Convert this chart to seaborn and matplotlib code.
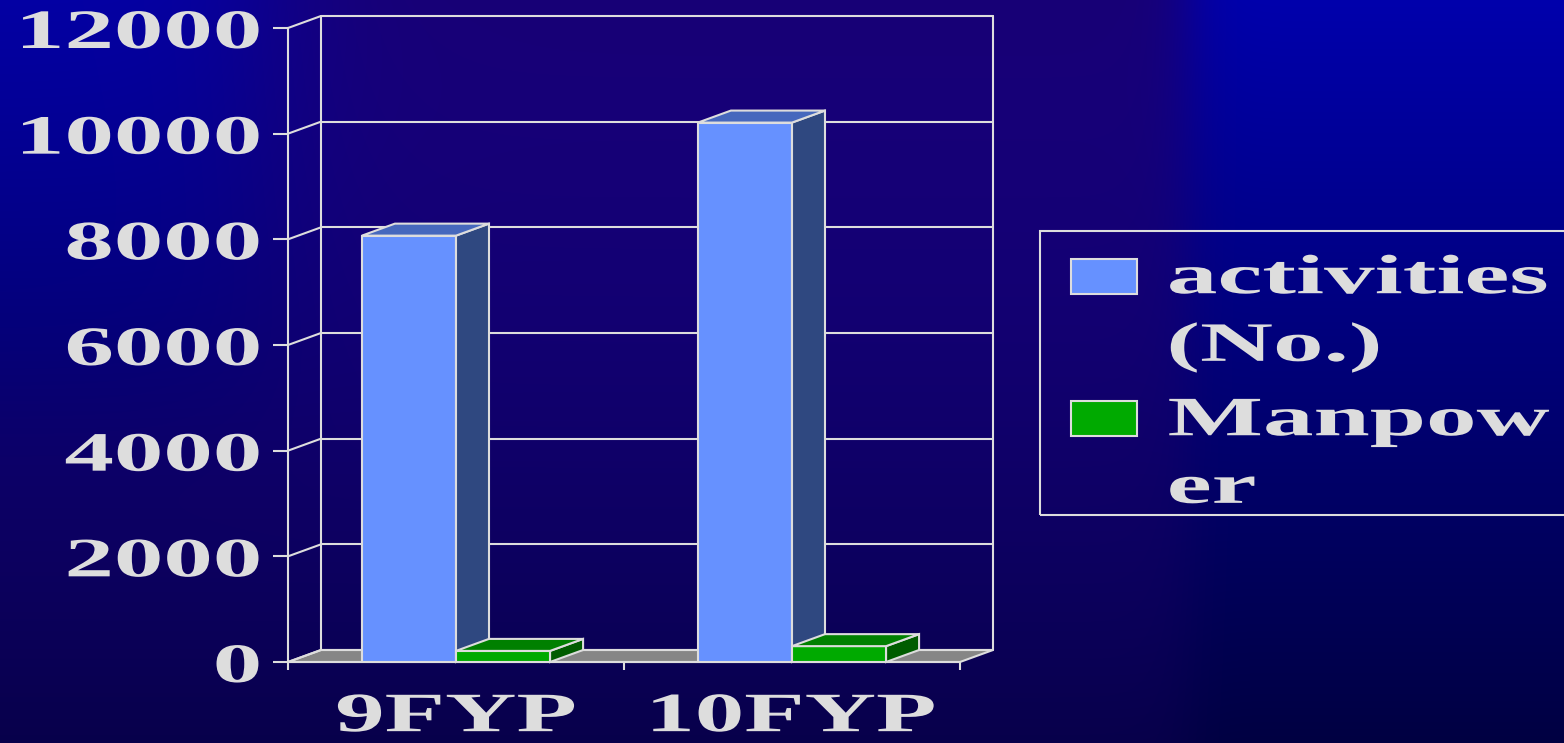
import numpy as np
import pandas as pd
import matplotlib
matplotlib.use("Agg")
import matplotlib.pyplot as plt
import seaborn as sns
from matplotlib import patheffects
from matplotlib.transforms import Affine2D, IdentityTransform
from matplotlib.patches import Polygon, Rectangle
from matplotlib.lines import Line2D
from matplotlib.legend_handler import HandlerPatch

# ---- data -------------------------------------------------------------
periods = ["9FYP", "10FYP"]
activities = [8070, 10210]
manpower = [210, 300]
series_names = ["activities (No.)", "Manpower"]
legend_labels = ["activities\n(No.)", "Manpow\ner"]
y_ticks = [0, 2000, 4000, 6000, 8000, 10000, 12000]

# ---- styling ----------------------------------------------------------
front_colors = ["#6691FF", "#00AA00"]
top_colors = ["#4668BD", "#008000"]
side_colors = ["#2F4880", "#005C00"]
LINE = "#DDDDDD"
FLOOR = "#868686"
DX, DY = 33, 12          # pixel offset of the chart's depth axis
FS = 40                  # text size in points

df = pd.DataFrame({
    "period": periods * 2,
    "series": [series_names[0]] * len(periods) + [series_names[1]] * len(periods),
    "value": activities + manpower,
})

sns.set_style("white")
plt.rcParams["font.family"] = ["Liberation Serif", "DejaVu Serif"]
plt.rcParams["font.weight"] = "bold"


class Stretch(patheffects.AbstractPathEffect):
    """Widen glyph outlines horizontally about a chosen anchor of each line."""

    def __init__(self, sx, anchor=0.0):
        super().__init__()
        self.sx = sx
        self.anchor = anchor

    def draw_path(self, renderer, gc, tpath, affine, rgbFace=None):
        ext = tpath.get_extents()
        a = ext.x0 + self.anchor * ext.width
        pre = Affine2D().translate(-a, 0).scale(self.sx, 1).translate(a, 0)
        renderer.draw_path(gc, tpath, pre + affine, rgbFace)


W, H = 1564, 743
fig = plt.figure(figsize=(W / 100, H / 100), dpi=100)

# ---- slide background -------------------------------------------------
bg = fig.add_axes([0, 0, 1, 1], zorder=-10)
yy, xx = np.mgrid[0:1:H * 1j, 0:1:W * 1j]
sig = lambda v: 1 / (1 + np.exp(-v))
blue_top = np.array([0, 0, 172]) / 255
blue_bot = np.array([0, 0, 66]) / 255
purple = np.array([24, 0, 118]) / 255
purple_bot = np.array([12, 0, 80]) / 255
base = blue_top[None, None, :] * (1 - yy[..., None]) + blue_bot[None, None, :] * yy[..., None]
pur = purple[None, None, :] * (1 - yy[..., None] ** 2) + purple_bot[None, None, :] * yy[..., None] ** 2
w = sig((0.76 - xx) / 0.01)
w *= 1 - 0.85 * sig((0.17 - xx) / 0.03) * sig((0.55 - yy) / 0.06)
w *= 1 - 0.35 * yy
img = base * (1 - w[..., None]) + pur * w[..., None]
bg.imshow(img, aspect="auto", extent=(0, 1, 0, 1), interpolation="bilinear")
bg.set_axis_off()

# ---- main chart -------------------------------------------------------
ax = fig.add_axes([288 / W, 1 - 662 / H, (960 - 288) / W, (662 - 28) / H])
ax.set_facecolor("none")
sns.barplot(
    data=df, x="period", y="value", hue="series",
    order=periods, hue_order=series_names, palette=front_colors,
    width=0.56, saturation=1, edgecolor=LINE, linewidth=1.5,
    errorbar=None, legend=False, ax=ax,
)
ax.set_xlim(-0.5, len(periods) - 0.5)
ax.set_ylim(y_ticks[0], y_ticks[-1])
ax.set_xlabel("")
ax.set_ylabel("")
ax.grid(False)
for s in ("top", "right"):
    ax.spines[s].set_visible(False)
for s in ("left", "bottom"):
    ax.spines[s].set_color(LINE)
    ax.spines[s].set_linewidth(1.5)


def proj(x, y, d):
    px, py = ax.transData.transform((x, y))
    return (px + d * DX, py + d * DY)


x_lo, x_hi = ax.get_xlim()
y_lo, y_hi = ax.get_ylim()

# floor
ax.add_patch(Polygon([proj(x_lo, y_lo, 0), proj(x_hi, y_lo, 0), proj(x_hi, y_lo, 1), proj(x_lo, y_lo, 1)],
                     closed=True, facecolor=FLOOR, edgecolor=LINE, linewidth=1.5,
                     transform=IdentityTransform(), zorder=0.5, clip_on=False))

# back wall and side wall lines
for t in y_ticks:
    for p0, p1 in ((proj(x_lo, t, 0), proj(x_lo, t, 1)), (proj(x_lo, t, 1), proj(x_hi, t, 1))):
        ax.add_line(Line2D([p0[0], p1[0]], [p0[1], p1[1]], color=LINE, linewidth=1.5,
                           transform=IdentityTransform(), zorder=0.6, clip_on=False))
for xv in (x_lo, x_hi):
    p0, p1 = proj(xv, y_lo, 1), proj(xv, y_hi, 1)
    ax.add_line(Line2D([p0[0], p1[0]], [p0[1], p1[1]], color=LINE, linewidth=1.5,
                       transform=IdentityTransform(), zorder=0.6, clip_on=False))

# top and side faces of the bars
for i, cont in enumerate(ax.containers):
    z = 3 + i
    for bar in cont:
        bar.set_zorder(z)
        x0, w_, h = bar.get_x(), bar.get_width(), bar.get_height()
        x1 = x0 + w_
        side = [proj(x1, 0, 0), proj(x1, h, 0), proj(x1, h, 1), proj(x1, 0, 1)]
        top = [proj(x0, h, 0), proj(x1, h, 0), proj(x1, h, 1), proj(x0, h, 1)]
        ax.add_patch(Polygon(side, closed=True, facecolor=side_colors[i], edgecolor=LINE,
                             linewidth=1.5, transform=IdentityTransform(), zorder=z, clip_on=False))
        ax.add_patch(Polygon(top, closed=True, facecolor=top_colors[i], edgecolor=LINE,
                             linewidth=1.5, transform=IdentityTransform(), zorder=z, clip_on=False))

# ticks and labels
ax.set_yticks(y_ticks)
ax.set_yticklabels([str(t) for t in y_ticks])
ax.tick_params(axis="y", which="major", direction="out", length=10.8, width=1.5,
               color=LINE, pad=9, labelsize=FS, labelcolor=LINE, left=True)
ax.set_xticks(range(len(periods)))
ax.set_xticklabels(periods)
ax.set_xticks([x_lo + k for k in range(len(periods) + 1)], minor=True)
ax.tick_params(axis="x", which="major", length=0, pad=21, labelsize=FS, labelcolor=LINE)
ax.tick_params(axis="x", which="minor", direction="out", length=5.8, width=1.5, color=LINE, bottom=True)

for lab in ax.get_yticklabels():
    lab.set_path_effects([Stretch(1.78, 1.0)])
for lab in ax.get_xticklabels():
    lab.set_path_effects([Stretch(1.78, 0.5)])

# ---- legend -----------------------------------------------------------
SHIFT = 26.5   # raise swatch to the first line of its label (points)
XOFF = 6.5     # inset of the swatch inside its handle box (points)
BORDERPAD = 0.4


def raised_patch(legend, orig_handle, xdescent, ydescent, width, height, fontsize):
    return Rectangle((-xdescent + XOFF, -ydescent + SHIFT), width - XOFF, height)


handles = [Rectangle((0, 0), 1, 1, facecolor=c, edgecolor=LINE, linewidth=1.5) for c in front_colors]
leg = fig.legend(
    handles, legend_labels,
    handler_map={Rectangle: HandlerPatch(patch_func=raised_patch)},
    loc="upper left", bbox_to_anchor=(1040 / W, 0, 700 / W, 1 - 231 / H), mode="expand",
    borderaxespad=0, fontsize=FS, handlelength=1.35, handleheight=0.6,
    handletextpad=0.56, borderpad=BORDERPAD, labelspacing=0.4,
    frameon=False, labelcolor=LINE,
)
for t in leg.get_texts():
    t.set_linespacing(1.39)
    t.set_path_effects([Stretch(1.82, 0.0)])

# legend frame: the legend box without its bottom padding
fig.canvas.draw()
bb = leg.get_window_extent()
pad_px = BORDERPAD * FS * fig.dpi / 72
fig.add_artist(Rectangle((bb.x0, bb.y0 + pad_px), bb.width, bb.height - pad_px,
                         facecolor="none", edgecolor=LINE, linewidth=1.5,
                         transform=IdentityTransform(), zorder=5))

fig.savefig("out.png", dpi=100)
